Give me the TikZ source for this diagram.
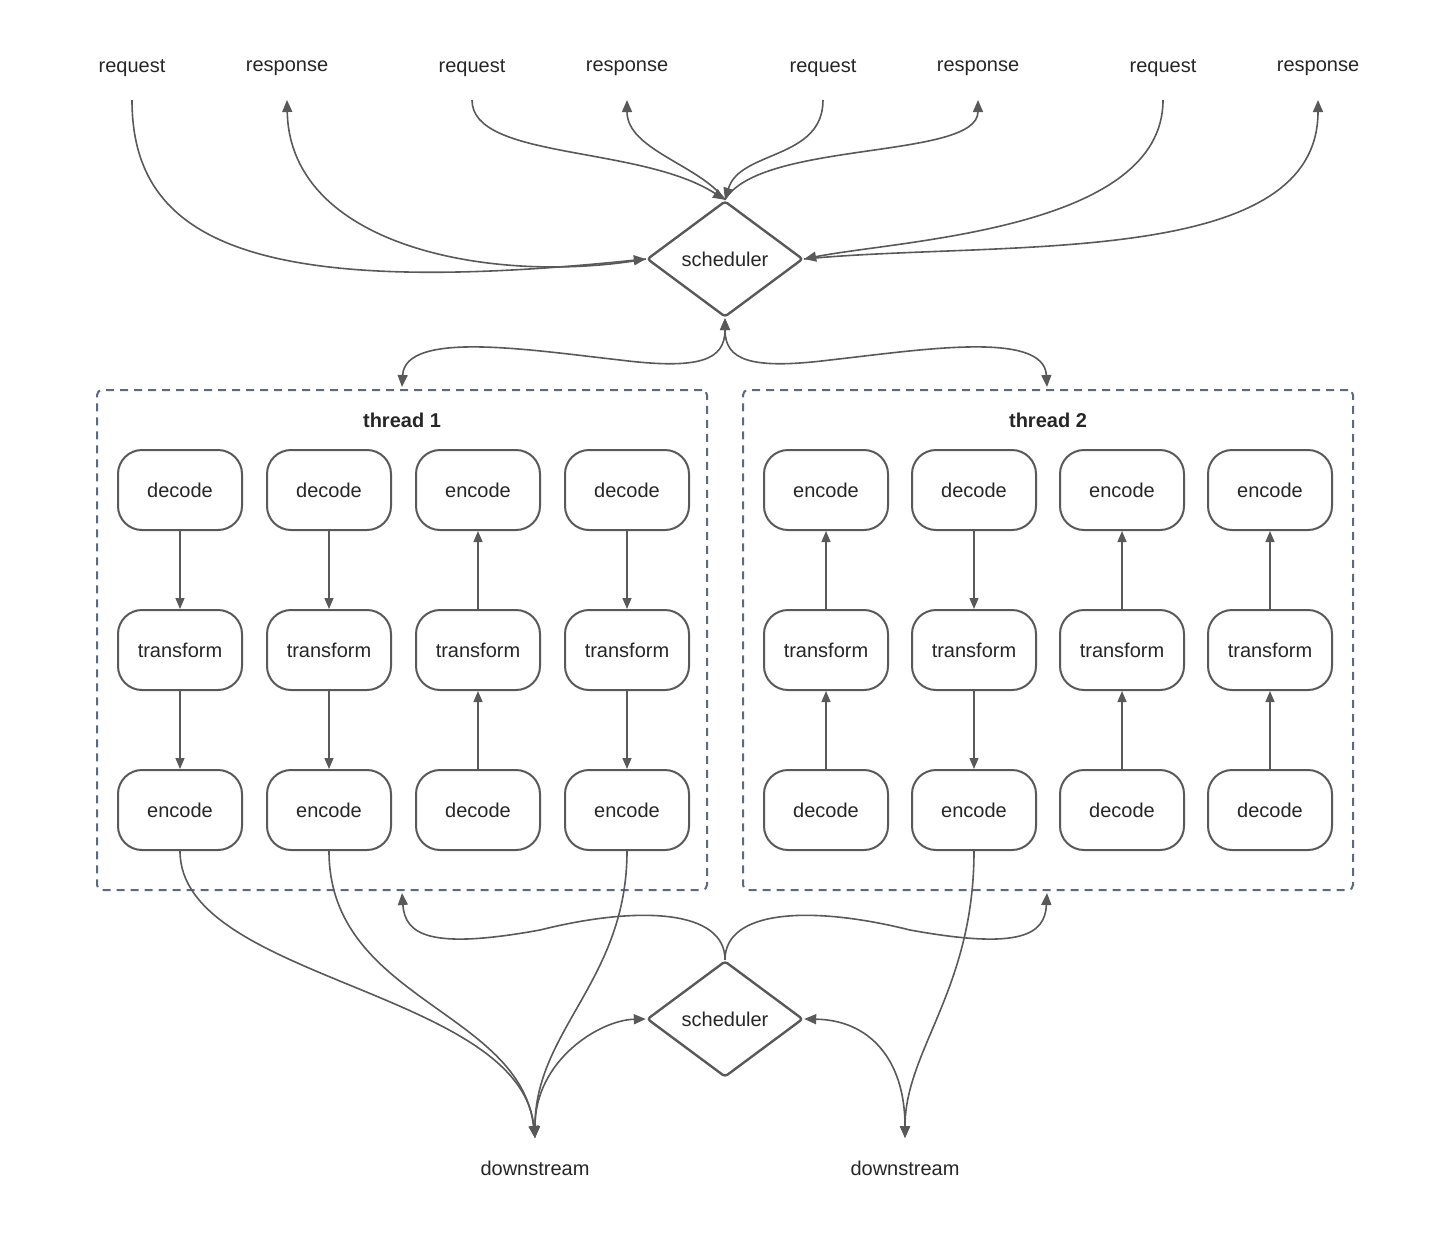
\documentclass[tikz,border=0pt]{standalone}
\usepackage{fontspec}
\setmainfont{Liberation Sans}
\usetikzlibrary{shapes.geometric,arrows.meta}
\definecolor{ln}{HTML}{595959}
\definecolor{th}{HTML}{5A6A82}
\begin{document}
\begin{tikzpicture}[x=1pt,y=-1pt,
  every node/.style={font=\fontsize{20}{24}\selectfont, text=black!85},
  op/.style={draw=ln,line width=2pt,rounded corners=24pt,minimum width=124pt,minimum height=80pt,inner sep=0pt},
  sch/.style={draw=ln,line width=2.4pt,diamond,minimum width=156pt,minimum height=116pt,inner sep=0pt,aspect=1.35,rounded corners=3pt},
  thr/.style={draw=th,line width=2pt,dash pattern=on 8pt off 6pt,rounded corners=5pt},
  lbl/.style={inner sep=0pt},
  c/.style={draw=ln,line width=1.6pt,-{Triangle[length=12pt,width=10pt]}},
  cc/.style={draw=ln,line width=1.6pt,{Triangle[length=12pt,width=10pt]}-{Triangle[length=12pt,width=10pt]}},
  a/.style={draw=ln,line width=1.3pt,-{Triangle[length=11pt,width=9pt]}}]
\useasboundingbox (0,0) rectangle (1451,1240);
\node[thr,minimum width=610pt,minimum height=500pt] (t1) at (402,640) {};
\node[thr,minimum width=610pt,minimum height=500pt] (t2) at (1048,640) {};
\node[font=\fontsize{20}{24}\selectfont\bfseries] at (402,420) {thread 1};
\node[font=\fontsize{20}{24}\selectfont\bfseries] at (1048,420) {thread 2};
\coordinate (t1t) at (402,387); \coordinate (t2t) at (1047,387);
\coordinate (t1b) at (402,893); \coordinate (t2b) at (1047,893);
\node[sch] (s1) at (725,259) {scheduler};
\node[sch] (s2) at (725,1019) {scheduler};
% top labels
\foreach \n/\x/\t in {q1/132/request,p1/287/response,q2/472/request,p2/627/response,q3/823/request,p3/978/response,q4/1163/request,p4/1318/response}{
  \node[lbl] (\n) at (\x,68) {\t};
  \coordinate (\n e) at (\x,100);}
\node[lbl] (d1) at (535,1168) {downstream};
\node[lbl] (d2) at (905,1168) {downstream};
\coordinate (d1e) at (535,1138); \coordinate (d2e) at (905,1138);
% grid
\foreach \col/\x/\a/\b/\cc in {1/180/decode/transform/encode,2/329/decode/transform/encode,3/478/encode/transform/decode,4/627/decode/transform/encode,
  5/826/encode/transform/decode,6/974/decode/transform/encode,7/1122/encode/transform/decode,8/1270/encode/transform/decode}{
  \node[op] (r1\col) at (\x,490) {\a};
  \node[op] (r2\col) at (\x,650) {\b};
  \node[op] (r3\col) at (\x,810) {\cc};}
\foreach \col in {1,2,4,6}{\draw[a] (r1\col) -- (r2\col); \draw[a] (r2\col) -- (r3\col);}
\foreach \col in {3,5,7,8}{\draw[a] (r3\col) -- (r2\col); \draw[a] (r2\col) -- (r1\col);}
% top connectors
\draw[c] (q1e) .. controls (132,240) and (250,300) .. (s1.west);
\draw[c] (s1.west) .. controls (500,285) and (290,250) .. (p1e);
\draw[c] (q2e) .. controls (472,160) and (640,145) .. (s1.north);
\draw[c] (s1.north) .. controls (700,165) and (627,150) .. (p2e);
\draw[c] (q3e) .. controls (823,160) and (740,150) .. (s1.north);
\draw[c] (s1.north) .. controls (760,140) and (978,160) .. (p3e);
\draw[c] (q4e) .. controls (1163,230) and (900,240) .. (s1.east);
\draw[c] (s1.east) .. controls (1000,240) and (1318,270) .. (p4e);
\draw[cc] (t1t) .. controls (405,330) and (530,350) .. (620,360) .. controls (700,370) and (725,360) .. (s1.south);
\draw[cc] (t2t) .. controls (1044,330) and (920,350) .. (830,360) .. controls (750,370) and (725,360) .. (s1.south);
% bottom
\draw[c] (s2.north) .. controls (725,910) and (640,905) .. (540,930) .. controls (430,950) and (405,935) .. (t1b);
\draw[c] (s2.north) .. controls (725,910) and (810,905) .. (910,930) .. controls (1020,950) and (1045,935) .. (t2b);
\draw[c] (r31) .. controls (180,980) and (520,990) .. (d1e);
\draw[c] (r32) .. controls (329,1000) and (520,1010) .. (d1e);
\draw[c] (r34) .. controls (627,980) and (535,1030) .. (d1e);
\draw[cc] (d1e) .. controls (535,1060) and (600,1020) .. (s2.west);
\draw[cc] (d2e) .. controls (905,1060) and (870,1020) .. (s2.east);
\draw[c] (r36) .. controls (974,990) and (905,1050) .. (d2e);
\end{tikzpicture}
\end{document}
